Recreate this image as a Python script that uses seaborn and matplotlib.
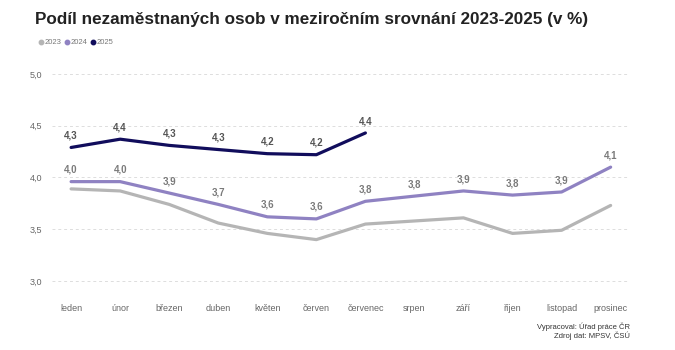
import pandas as pd
import matplotlib
matplotlib.use("Agg")
import matplotlib.pyplot as plt
import seaborn as sns
from matplotlib.lines import Line2D

# Data
mesice = ["leden", "únor", "březen", "duben", "květen", "červen",
          "červenec", "srpen", "září", "říjen", "listopad", "prosinec"]
r2023 = [3.89, 3.87, 3.74, 3.56, 3.46, 3.40, 3.55, 3.58, 3.61, 3.46, 3.49, 3.73]
r2024 = [3.96, 3.96, 3.85, 3.74, 3.62, 3.60, 3.77, 3.82, 3.87, 3.83, 3.86, 4.10]
r2025 = [4.29, 4.37, 4.31, 4.27, 4.23, 4.22, 4.43]
popisky2024 = ["4,0", "4,0", "3,9", "3,7", "3,6", "3,6", "3,8", "3,8", "3,9", "3,8", "3,9", "4,1"]
popisky2025 = ["4,3", "4,4", "4,3", "4,3", "4,2", "4,2", "4,4"]
roky = ["2023", "2024", "2025"]
barvy = {"2023": "#b5b5b5", "2024": "#8f82c2", "2025": "#110d5c"}

rows = []
for rok, hodnoty in zip(roky, [r2023, r2024, r2025]):
    for i, v in enumerate(hodnoty):
        rows.append({"mesic": i, "rok": rok, "hodnota": v})
df = pd.DataFrame(rows)

sns.set_style("white")
plt.rcParams["font.family"] = ["Liberation Sans", "DejaVu Sans"]

fig = plt.figure(figsize=(6.75, 3.5), dpi=100)
ax = fig.add_axes([0.077, 0.1675, 0.856, 0.636])

sns.lineplot(data=df, x="mesic", y="hodnota", hue="rok", palette=barvy,
             linewidth=2.3, legend=False, ax=ax, sort=False)

# popisky hodnot
for i, t in enumerate(popisky2024):
    ax.annotate(t, (i, r2024[i]), xytext=(0, 5), textcoords="offset points",
                ha="center", va="bottom", fontsize=7, color="#7a7a7a", fontweight="bold")
for i, t in enumerate(popisky2025):
    ax.annotate(t, (i, r2025[i]), xytext=(0, 5), textcoords="offset points",
                ha="center", va="bottom", fontsize=7, color="#555555", fontweight="bold")

ax.set_xlim(-0.39, 11.39)
ax.set_ylim(2.9, 5.05)
ax.set_yticks([3.0, 3.5, 4.0, 4.5, 5.0])
ax.set_yticklabels(["3,0", "3,5", "4,0", "4,5", "5,0"])
ax.set_xticks(range(12))
ax.set_xticklabels(mesice)
ax.tick_params(axis="both", length=0, labelsize=6.5, colors="#666666")
ax.tick_params(axis="x", pad=9)
ax.tick_params(axis="y", pad=7)
ax.set_xlabel("")
ax.set_ylabel("")
ax.grid(axis="y", color="#dddddd", linestyle=(0, (3, 3)), linewidth=0.7)
ax.set_axisbelow(True)
for s in ax.spines.values():
    s.set_visible(False)

fig.text(0.052, 0.945, "Podíl nezaměstnaných osob v meziročním srovnání 2023-2025 (v %)",
         fontsize=12.3, fontweight="bold", color="#222222", va="center")

handles = [Line2D([], [], marker="o", linestyle="", markersize=3.2,
                  color=barvy[r], label=r) for r in roky]
fig.legend(handles=handles, loc="center left", bbox_to_anchor=(0.045, 0.878),
           ncol=3, frameon=False, fontsize=5.5, handletextpad=0.0,
           columnspacing=0.3, labelcolor="#777777", handlelength=0.9)

fig.text(0.933, 0.066, "Vypracoval: Úřad práce ČR", fontsize=5.5, ha="right",
         color="#333333", va="center")
fig.text(0.933, 0.042, "Zdroj dat: MPSV, ČSÚ", fontsize=5.5, ha="right",
         color="#333333", va="center")

fig.savefig("out.png", dpi=100, facecolor="white")
